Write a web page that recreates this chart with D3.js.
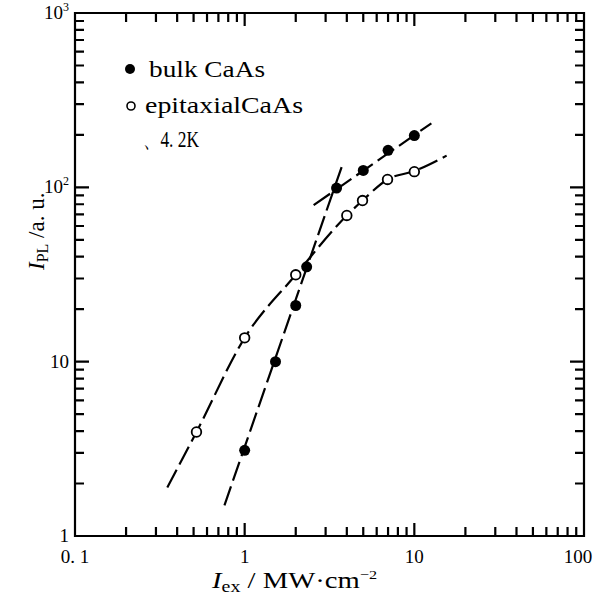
<!DOCTYPE html>
<html>
<head>
<meta charset="utf-8">
<script src="https://cdn.jsdelivr.net/npm/d3@7"></script>
<style>
  body { margin: 0; background: #fff; }
  svg { display: block; font-family: "Liberation Serif", "DejaVu Serif", serif; }
</style>
</head>
<body>
<div id="chart"></div>
<script>
// measured points
const bulkX = [1.0, 1.52, 2.0, 2.32, 3.48, 5.0, 7.0, 10];
const bulkY = [3.1, 10, 21, 35, 99, 125, 163, 198];
const epiX = [0.52, 1.0, 2.0, 4.0, 4.95, 6.95, 10];
const epiY = [3.95, 13.7, 31.5, 69, 84, 111, 123];

// fitted lines
const bulkSteepX = [0.76, 3.77];
const bulkSteepY = [1.5, 135];
const bulkFlatX = [2.55, 12.6];
const bulkFlatY = [79, 233];
const epiCurveX = [0.35, 0.52, 1.0, 2.0, 4.0, 4.95, 6.95, 10, 15.5];
const epiCurveY = [1.9, 3.95, 13.7, 31.5, 69, 84, 111, 124, 152];

const xMajor = [0.1, 1, 10, 100];
const yMajor = [1, 10, 100, 1000];
const xLabels = ["0. 1", "1", "10", "100"];
const minorSteps = [2, 3, 4, 5, 6, 7, 8, 9];

const W = 596, H = 597;
const svg = d3.select("#chart").append("svg")
    .attr("width", W)
    .attr("height", H);

const x = d3.scaleLog().domain([0.1, 100]).range([75, 584]);
const y = d3.scaleLog().domain([1, 1000]).range([536, 13]);

const xMinor = xMajor.slice(0, -1).flatMap(m => minorSteps.map(k => k * m));
const yMinor = yMajor.slice(0, -1).flatMap(m => minorSteps.map(k => k * m));
const xTicks = xMinor.map(v => ({ v, len: 9 })).concat(xMajor.map(v => ({ v, len: 13 })));
const yTicks = yMinor.map(v => ({ v, len: 9 })).concat(yMajor.map(v => ({ v, len: 14 })));

const left = x(0.1), right = x(100), bottom = y(1), upper = y(1000);

// frame and inward ticks in one path
const frame = d3.path();
frame.rect(left, upper, right - left, bottom - upper);
xTicks.forEach(t => {
    frame.moveTo(x(t.v), bottom); frame.lineTo(x(t.v), bottom - t.len);
    frame.moveTo(x(t.v), upper); frame.lineTo(x(t.v), upper + t.len);
});
yTicks.forEach(t => {
    frame.moveTo(left, y(t.v)); frame.lineTo(left + t.len, y(t.v));
    frame.moveTo(right, y(t.v)); frame.lineTo(right - t.len, y(t.v));
});
svg.append("path")
    .attr("d", frame.toString())
    .attr("fill", "none")
    .attr("stroke", "#000")
    .attr("stroke-width", 2.2);

// tick labels
svg.append("g").selectAll("text")
    .data(xMajor)
    .join("text")
    .attr("x", d => d === 100 ? x(d) - 6 : x(d))
    .attr("y", 563)
    .attr("text-anchor", "middle")
    .style("font-size", "19px")
    .text((d, i) => xLabels[i]);

const yLab = svg.append("g").selectAll("text")
    .data(yMajor)
    .join("text")
    .attr("x", 69)
    .attr("y", d => y(d) + 6)
    .attr("text-anchor", "end")
    .style("font-size", "19px");
yLab.each(function(d) {
    const t = d3.select(this);
    if (d >= 100) {
        t.append("tspan").text("10");
        t.append("tspan").attr("dy", -8).style("font-size", "12px").text(Math.log10(d));
    } else {
        t.text(d);
    }
});

// lines
const line = d3.line().x(d => x(d[0])).y(d => y(d[1]));
const curve = d3.line().x(d => x(d[0])).y(d => y(d[1])).curve(d3.curveMonotoneX);
const zip = (a, b) => a.map((v, i) => [v, b[i]]);

const lines = svg.append("g")
    .attr("fill", "none")
    .attr("stroke", "#000")
    .attr("stroke-width", 2.2)
    .attr("stroke-dasharray", "20,6");
lines.append("path").attr("d", line(zip(bulkSteepX, bulkSteepY)));
lines.append("path").attr("d", line(zip(bulkFlatX, bulkFlatY)));
lines.append("path").attr("d", curve(zip(epiCurveX, epiCurveY)));

// markers
svg.append("g").selectAll("circle")
    .data(zip(epiX, epiY))
    .join("circle")
    .attr("cx", d => x(d[0]))
    .attr("cy", d => y(d[1]))
    .attr("r", 4.8)
    .attr("fill", "#fff")
    .attr("stroke", "#000")
    .attr("stroke-width", 1.8);

svg.append("g").selectAll("circle")
    .data(zip(bulkX, bulkY))
    .join("circle")
    .attr("cx", d => x(d[0]))
    .attr("cy", d => y(d[1]))
    .attr("r", 5.5)
    .attr("fill", "#000");

// legend
svg.append("circle").attr("cx", 130).attr("cy", 69).attr("r", 5).attr("fill", "#000");
svg.append("circle").attr("cx", 131).attr("cy", 106).attr("r", 4).attr("fill", "#fff")
    .attr("stroke", "#000").attr("stroke-width", 1.6);
svg.append("text").attr("x", 149).attr("y", 77).style("font-size", "23px")
    .attr("textLength", 116).attr("lengthAdjust", "spacingAndGlyphs").text("bulk  CaAs");
svg.append("text").attr("x", 145).attr("y", 113).style("font-size", "23px")
    .attr("textLength", 158).attr("lengthAdjust", "spacingAndGlyphs").text("epitaxialCaAs");
svg.append("text").attr("x", 143).attr("y", 147).style("font-size", "23px")
    .attr("textLength", 56).attr("lengthAdjust", "spacingAndGlyphs").text("、4. 2K");

// axis titles
const xt = svg.append("text")
    .attr("x", 212).attr("y", 588)
    .attr("textLength", 165).attr("lengthAdjust", "spacingAndGlyphs")
    .style("font-size", "23px");
xt.append("tspan").style("font-style", "italic").text("I");
xt.append("tspan").attr("dy", 4).style("font-size", "16px").text("ex");
xt.append("tspan").attr("dy", -4).text(" / MW·cm");
xt.append("tspan").attr("dy", -9).style("font-size", "13px").text("−2");

const yt = svg.append("text")
    .attr("transform", "translate(44,270) rotate(-90)")
    .style("font-size", "23px");
yt.append("tspan").style("font-style", "italic").text("I");
yt.append("tspan").attr("dy", 4).style("font-size", "16px").text("PL");
yt.append("tspan").attr("dy", -4).text(" /a. u.");
</script>
</body>
</html>
